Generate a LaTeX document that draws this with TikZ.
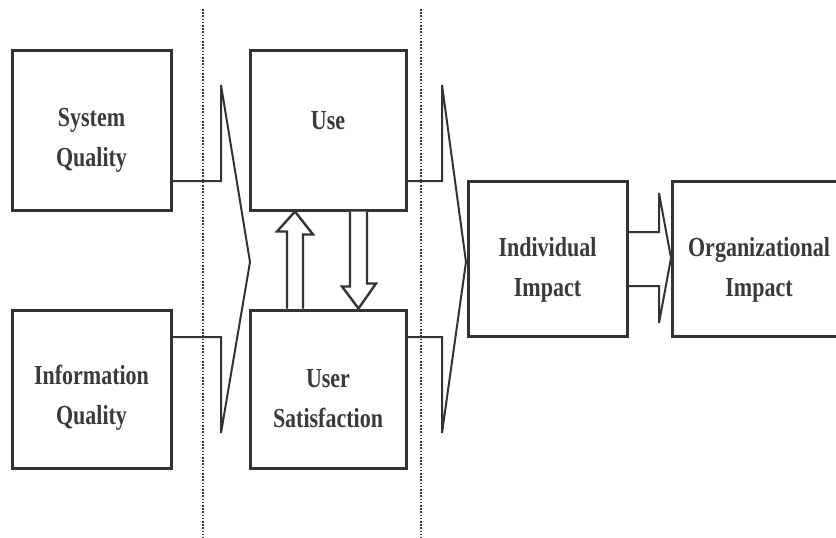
\documentclass[tikz,border=0pt]{standalone}
\usepackage{fontspec}
\setmainfont{Liberation Serif}[FakeStretch=0.8]
\usetikzlibrary{calc}
\definecolor{ink}{HTML}{333333}
\definecolor{txt}{HTML}{3A3A3A}
\begin{document}
\begin{tikzpicture}[x=1pt,y=-1pt,
  box/.style={draw=ink,line width=3pt,inner sep=0pt},
  lbl/.style={inner sep=0pt,align=center,text=txt,
    font=\fontsize{27.5}{40}\selectfont\bfseries},
  chev/.style={draw=ink,line width=2pt,line join=miter},
  hollow/.style={draw=ink,line width=2.4pt,fill=white,line join=miter},
  divider/.style={draw=ink,line width=1.3pt,dash pattern=on 1.6pt off 1.6pt}]
\useasboundingbox (0,0) rectangle (836,538);
\clip (0,0) rectangle (836,538);
\fill[white] (0,0) rectangle (836,538);

% dotted dividers
\coordinate (d1t) at (203,9);  \coordinate (d1b) at (203,538);
\coordinate (d2t) at (421,9);  \coordinate (d2b) at (421,538);
\draw[divider] (d1t) -- (d1b);
\draw[divider] (d2t) -- (d2b);

% boxes
\node[box,minimum width=159pt,minimum height=160pt] (sq) at (91.5,130) {};
\node[box,minimum width=159pt,minimum height=158pt] (iq) at (91.5,389) {};
\node[box,minimum width=156pt,minimum height=160pt] (use) at (328,130) {};
\node[box,minimum width=156pt,minimum height=158pt] (us) at (328,389) {};
\node[box,minimum width=159pt,minimum height=155pt] (ii) at (547.5,258.5) {};
\node[box,minimum width=178pt,minimum height=155pt] (oi) at (761,258.5) {};

% labels
\node[lbl] (sqt) at ($(sq.center)+(0,10)$) {System\\Quality};
\node[lbl] (iqt) at ($(iq.center)+(0,9)$) {Information\\Quality};
\node[lbl] (uset) at ($(use.center)+(0,10)$) {Use\\\mbox{}};
\node[lbl] (ust) at ($(us.center)+(0,10)$) {User\\Satisfaction};
\node[lbl] (iit) at ($(ii.center)+(0,11)$) {Individual\\Impact};
\node[lbl] (oit) at ($(oi.center)+(-2,11)$) {Organizational\\Impact};

% chevron 1
\coordinate (a1) at (221,181); \coordinate (a2) at (221,85);
\coordinate (a3) at (250,262); \coordinate (a4) at (221,433);
\coordinate (a5) at (221,337);
\draw[chev] (sq.east |- a1) -- (a1) -- (a2) -- (a3) -- (a4) -- (a5) -- (iq.east |- a5);

% chevron 2
\coordinate (b1) at (442,181); \coordinate (b2) at (442,85);
\coordinate (b3) at (466,262); \coordinate (b4) at (442,433);
\coordinate (b5) at (442,337);
\draw[chev] (use.east |- b1) -- (b1) -- (b2) -- (b3) -- (b4) -- (b5) -- (us.east |- b5);

% chevron 3
\coordinate (e1) at (659,232); \coordinate (e2) at (659,193);
\coordinate (e3) at (671,258); \coordinate (e4) at (659,323);
\coordinate (e5) at (659,286);
\draw[chev] (ii.east |- e1) -- (e1) -- (e2) -- (e3) -- (e4) -- (e5) -- (ii.east |- e5);

% hollow up arrow (User Satisfaction -> Use)
\coordinate (u0) at (295,0);
\draw[hollow] ($(us.north -| u0)+(-8,0)$) -- ++(0,-77) -- ++(-10,0)
  -- (use.south -| u0) -- ++(18,23) -- ++(-10,0) -- ($(us.north -| u0)+(8,0)$);

% hollow down arrow (Use -> User Satisfaction)
\coordinate (w0) at (358.5,0);
\draw[hollow] ($(use.south -| w0)+(-8.5,0)$) -- ++(0,75) -- ++(-8,0)
  -- (us.north -| w0) -- ++(17.5,-25) -- ++(-9,0) -- ($(use.south -| w0)+(8.5,0)$);
\end{tikzpicture}
\end{document}
